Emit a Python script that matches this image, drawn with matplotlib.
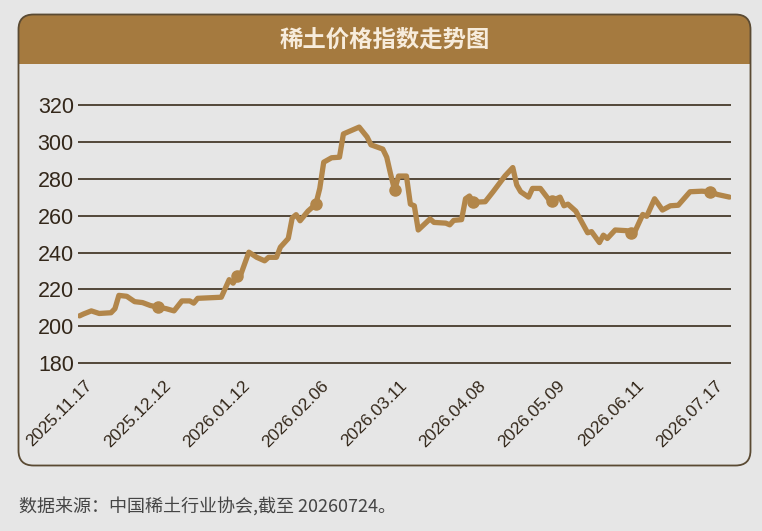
import numpy as np
import matplotlib
matplotlib.use("Agg")
import matplotlib.pyplot as plt
from matplotlib.patches import FancyBboxPatch, Rectangle
from matplotlib.transforms import ScaledTranslation

plt.rcParams['font.family'] = ['Liberation Sans', 'Noto Sans CJK SC', 'DejaVu Sans']

# ---- data (trading-day index, index value) ----
day = [0, 1, 3, 5, 8, 9, 10, 12, 14, 16, 18, 20, 22, 24, 26, 28, 29, 30, 33, 36,
       38, 39, 40, 41, 43, 45, 47, 48, 50, 51, 53, 54, 55, 56, 58, 60, 61, 62, 64, 66,
       67, 71, 73, 74, 77, 78, 79, 80, 81, 83, 84, 85, 86, 89, 90, 93, 94, 95, 97, 98,
       99, 100, 103, 105, 108, 110, 111, 112, 114, 115, 117, 119, 120, 122, 123, 124,
       126, 129, 130, 132, 133, 134, 136, 139, 140, 141, 143, 144, 146, 148, 150, 152,
       155, 158, 160, 162, 165]
value = [205.7, 206.7, 208.4, 207.0, 207.4, 209.6, 216.8, 216.3, 213.4, 212.9, 211.3,
         210.4, 209.6, 208.4, 213.8, 213.8, 212.6, 215.2, 215.5, 215.8,
         225.3, 223.4, 227.1, 228.4, 240.2, 237.4, 235.5, 237.4, 237.4, 242.9, 247.6,
         258.7, 260.5, 257.2, 262.4, 266.2, 274.7, 288.9, 291.3, 291.6,
         304.2, 307.9, 302.6, 298.3, 296.0, 291.6, 282.3, 273.8, 281.4, 281.4, 266.2,
         265.3, 252.2, 258.2, 256.3, 255.9, 255.0, 257.4, 257.8, 269.1,
         270.6, 267.2, 267.5, 272.9, 281.4, 286.0, 276.6, 272.9, 270.0, 274.7, 274.7,
         269.1, 268.1, 270.0, 265.3, 266.2,
         262.4, 250.7, 251.3, 245.4, 249.4, 247.6, 252.2, 251.8, 250.4, 251.3, 260.6,
         259.6, 269.1, 263.0, 265.3, 265.6,
         272.9, 273.2, 272.9, 271.4, 270.0]
tick_day = [0, 20, 40, 60, 80, 100, 120, 140, 160]
tick_labels = ['2025.11.17', '2025.12.12', '2026.01.12', '2026.02.06', '2026.03.11',
               '2026.04.08', '2026.05.09', '2026.06.11', '2026.07.17']
y_ticks = [180, 200, 220, 240, 260, 280, 300, 320]
title = '稀土价格指数走势图'
source = '数据来源：中国稀土行业协会,截至 20260724。'

BG = '#e6e6e6'
HEADER = '#a57a3f'
BORDER = '#5a4a33'
GRID = '#3a2c1c'
LINE = '#b2864a'

W, H = 762, 531
fig = plt.figure(figsize=(W / 100, H / 100), dpi=100, facecolor=BG)

def px_to_in(x, y):
    return x / 100, (H - y) / 100

# outer rounded box
bx0, by_top, bx1, by_bot = 18.5, 14.5, 750.5, 465.5
x0, y0 = px_to_in(bx0, by_bot)
bw, bh = (bx1 - bx0) / 100, (by_bot - by_top) / 100
outer = FancyBboxPatch((x0, y0), bw, bh, boxstyle='round,pad=0,rounding_size=0.15',
                       transform=fig.dpi_scale_trans, facecolor=BG, edgecolor='none',
                       zorder=0)
fig.add_artist(outer)
hx, hy = px_to_in(bx0, 64)
header = Rectangle((hx, hy), bw, (64 - by_top) / 100 + 0.05, transform=fig.dpi_scale_trans,
                   facecolor=HEADER, edgecolor='none', zorder=1)
fig.add_artist(header)
header.set_clip_path(outer)
border = FancyBboxPatch((x0, y0), bw, bh, boxstyle='round,pad=0,rounding_size=0.15',
                        transform=fig.dpi_scale_trans, facecolor='none', edgecolor=BORDER,
                        linewidth=1.3, zorder=2)
fig.add_artist(border)

tx, ty = px_to_in(385, 40)
fig.text(tx / (W / 100), ty / (H / 100), title, ha='center', va='center', fontsize=16.8,
         color='#f7ecdc', family=['Noto Sans CJK SC', 'DejaVu Sans'], fontweight='bold')
sx, sy = px_to_in(19, 506)
fig.text(sx / (W / 100), sy / (H / 100), source, ha='left', va='center', fontsize=13,
         color='#454545', family=['Noto Sans CJK SC', 'DejaVu Sans'])

# axes
ax = fig.add_axes([78 / W, (H - 365.2) / H, (731 - 78) / W, (365.2 - 102.9) / H])
ax.set_facecolor('none')
ax.set_xlim(-0.38, 165.4)
ax.set_ylim(179, 321)
for s in ax.spines.values():
    s.set_visible(False)
ax.set_yticks(y_ticks)
ax.set_yticklabels([str(v) for v in y_ticks])
ax.tick_params(axis='y', length=0, pad=3, labelsize=15.5, labelcolor='#33271a')
for v in y_ticks:
    ax.axhline(v, color=GRID, linewidth=1.2, zorder=1)

ax.set_xticks(tick_day)
ax.set_xticklabels(tick_labels, rotation=45, ha='right', va='top', rotation_mode='anchor')
ax.tick_params(axis='x', length=0, pad=9, labelsize=12.5, labelcolor='#33271a')
for lab in ax.get_xticklabels():
    lab.set_transform(lab.get_transform() + ScaledTranslation(0.05, 0, fig.dpi_scale_trans))

day_a = np.array(day)
val_a = np.array(value)
ax.plot(day_a, val_a, color=LINE, linewidth=3.8, solid_joinstyle='round',
        solid_capstyle='round', zorder=3)
mask = np.isin(day_a, tick_day[1:])
ax.plot(day_a[mask], val_a[mask], 'o', color=LINE, markersize=8, zorder=4)

fig.savefig('out.png', dpi=100, facecolor=BG)
